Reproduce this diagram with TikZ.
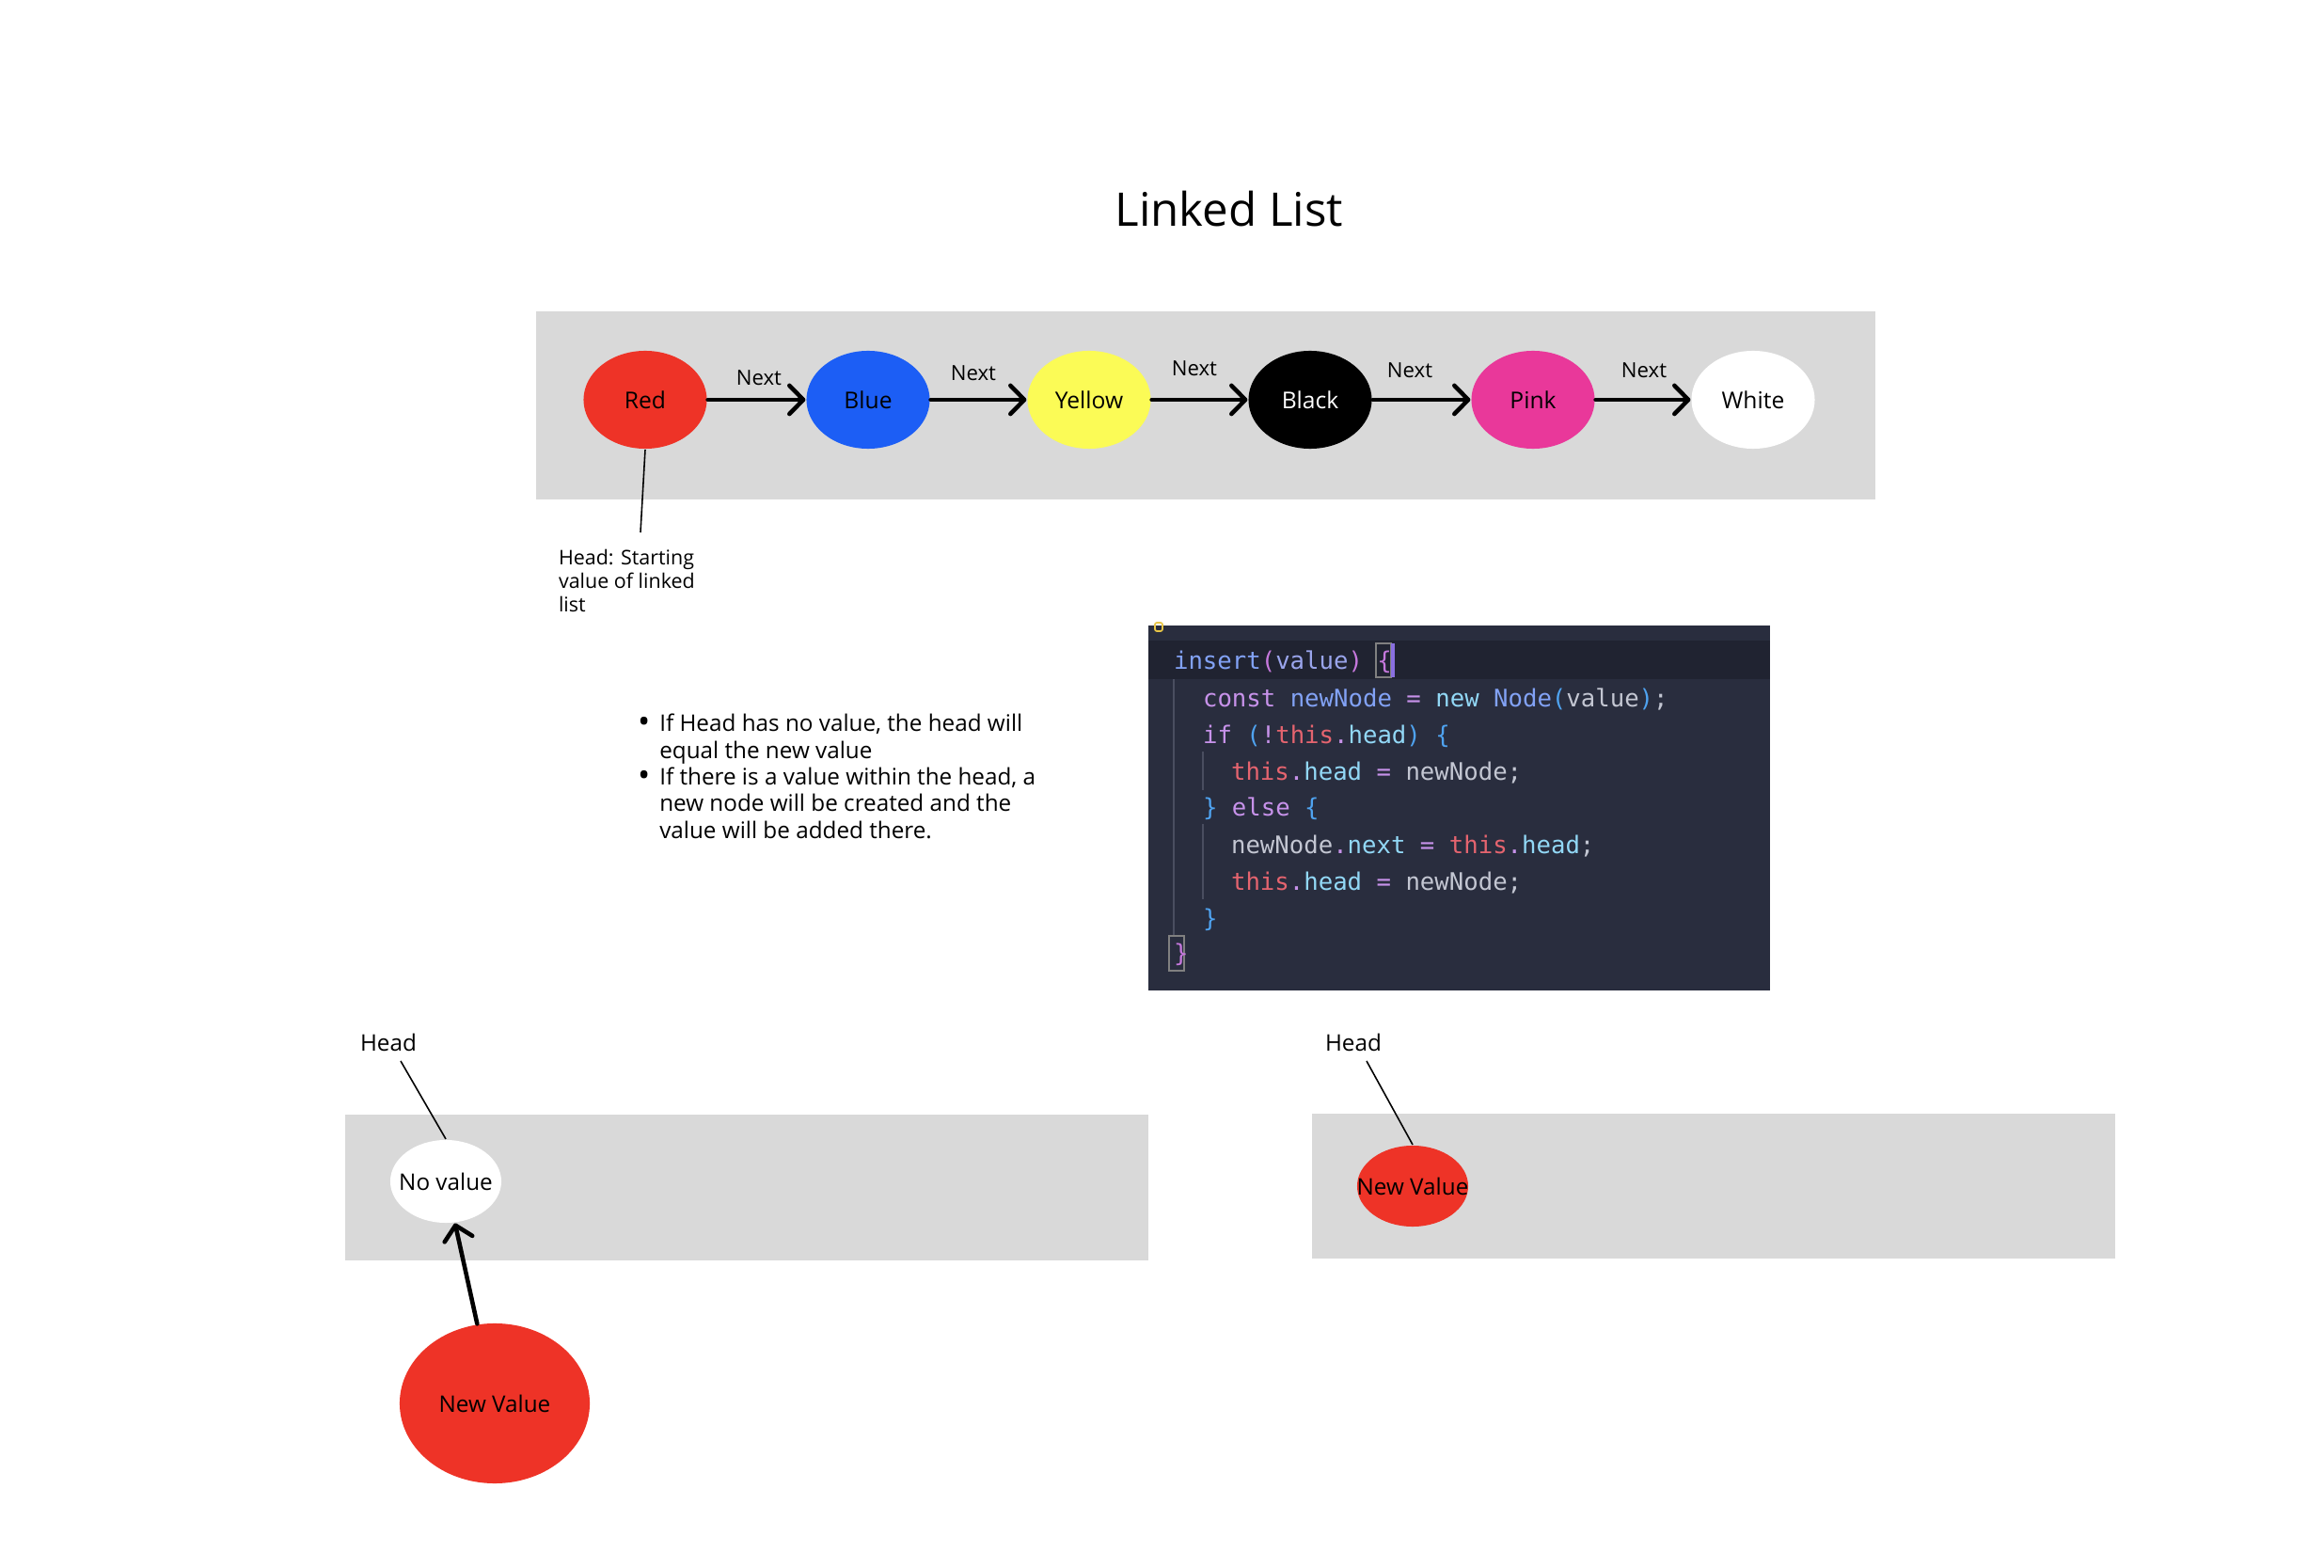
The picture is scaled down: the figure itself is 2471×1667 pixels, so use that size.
\documentclass[tikz,border=0pt]{standalone}
\usepackage{fontspec}
\setmainfont{Open Sans}
\newfontfamily\codefont{DejaVu Sans Mono}
\usepackage{tikz}
\usetikzlibrary{arrows.meta,shapes.geometric}
\definecolor{box_gray}{HTML}{D9D9D9}
\definecolor{node_red}{HTML}{EE3327}
\definecolor{node_blue}{HTML}{1C5EF5}
\definecolor{node_yellow}{HTML}{FBFB56}
\definecolor{node_pink}{HTML}{E9389A}
\definecolor{code_bg}{HTML}{292D3E}
\definecolor{code_line}{HTML}{202331}
\definecolor{code_guide}{HTML}{4A4E60}
\definecolor{code_txt}{HTML}{C3C6D2}
\definecolor{code_kw}{HTML}{C792EA}
\definecolor{code_fn}{HTML}{82A2F5}
\definecolor{code_arg}{HTML}{9AA5EC}
\definecolor{code_this}{HTML}{E5646F}
\definecolor{code_prop}{HTML}{92D8F6}
\definecolor{code_br}{HTML}{4FA3F0}
\definecolor{code_par}{HTML}{C678DD}
\definecolor{code_cursor}{HTML}{8A6FE0}
\definecolor{code_icon}{HTML}{E8C547}
\newcommand\ckw[1]{\textcolor{code_kw}{#1}}
\newcommand\cfn[1]{\textcolor{code_fn}{#1}}
\newcommand\carg[1]{\textcolor{code_arg}{#1}}
\newcommand\cth[1]{\textcolor{code_this}{#1}}
\newcommand\cpr[1]{\textcolor{code_prop}{#1}}
\newcommand\cbr[1]{\textcolor{code_br}{#1}}
\newcommand\cpa[1]{\textcolor{code_par}{#1}}
\newcommand\dotb{\raisebox{-0.5pt}{\scalebox{1.45}{\textbullet}}}

\begin{document}
\begin{tikzpicture}[x=0.01cm,y=-0.01cm,semithick,>={Straight Barb[length=4.2pt,width=8.6pt,round]}]
    \tikzstyle{item}=[ellipse, minimum width=1.31cm, minimum height=1.04cm, inner sep=0pt, text=black, font=\fontsize{7}{8}\selectfont]
    \tikzstyle{lbl}=[inner sep=0pt, font=\fontsize{6.3}{7.5}\selectfont]
    \tikzstyle{note}=[inner sep=0pt, font=\fontsize{6.9}{8.05}\selectfont]
    \tikzstyle{code}=[anchor=base west, inner sep=0pt, text=code_txt, font=\codefont\fontsize{7.3}{8}\selectfont]
    \tikzstyle{link}=[->, line width=1.3pt, line cap=round]
    \tikzstyle{pointer}=[line width=0.45pt]

    \path[use as bounding box, fill=white] (0,0) rectangle (2471,1667);

    \node[font=\fontsize{14}{16}\selectfont, inner sep=0pt] (title) at (1307,222) {Linked List};

    % list
    \fill[box_gray] (570,331) rectangle (1994,531);
    \node[item, fill=node_red]    (red)    at (686,425)  {Red};
    \node[item, fill=node_blue]   (blue)   at (923,425)  {Blue};
    \node[item, fill=node_yellow] (yellow) at (1158,425) {\raisebox{-1.5pt}{Yellow}};
    \node[item, fill=black, text=white] (black) at (1393,425) {Black};
    \node[item, fill=node_pink]   (pink)   at (1630,425) {\raisebox{-1.5pt}{Pink}};
    \node[item, fill=white]       (white)  at (1864,425) {White};
    \node[lbl] (nx1) at (807,402)  {Next};
    \node[lbl] (nx2) at (1035,397) {Next};
    \node[lbl] (nx3) at (1270,392) {Next};
    \node[lbl] (nx4) at (1499,394) {Next};
    \node[lbl] (nx5) at (1748,394) {Next};
    \path[link]
     (red)    edge (blue)
     (blue)   edge (yellow)
     (yellow) edge (black)
     (black)  edge (pink)
     (pink)   edge (white)
     ;
    \coordinate (hd) at (681,566);
    \draw[pointer] (red.south) -- (hd);
    \node[inner sep=0pt, anchor=north west, align=left, font=\fontsize{6.1}{7.1}\selectfont] (headnote) at (593,583)
      {Head: Starting\\value of linked\\list};

    % bullets
    \node[note, anchor=base west] (rules) at (677,778)
      {\begin{tabular}[t]{@{}l@{\hspace{0.1cm}}l@{}}
        \dotb & If Head has no value, the head will\\
              & equal the new value\\
        \dotb & If there is a value within the head, a\\
              & new node will be created and the\\
              & value will be added there.
       \end{tabular}};

    % insert()
    \fill[code_bg] (1221,665) rectangle (1882,1053);
    \fill[code_line] (1221,681) rectangle (1882,722);
    \draw[code_icon, line width=0.5pt, rounded corners=0.6pt] (1228,662) rectangle (1236,671);
    \draw[code_guide, line width=0.7pt] (1248,722) -- (1248,995);
    \draw[code_guide, line width=0.7pt] (1279,799) -- (1279,840);
    \draw[code_guide, line width=0.7pt] (1279,876) -- (1279,956);
    \draw[gray, line width=0.5pt] (1463,684) rectangle (1479,720);
    \draw[code_cursor, line width=0.9pt] (1481,684) -- (1481,720);
    \draw[gray, line width=0.5pt] (1243,995) rectangle (1259,1032);
    \node[code] (c1) at (1247,712)  {\cfn{insert}\cpa{(}\carg{value}\cpa{)} \cpa{\{}};
    \node[code] (c2) at (1278,752)  {\ckw{const} \cfn{newNode} \ckw{=} \cpr{new} \cfn{Node}\cbr{(}value\cbr{)};};
    \node[code] (c3) at (1278,791)  {\ckw{if} \cbr{(}\ckw{!}\cth{this}\ckw{.}\cpr{head}\cbr{)} \cbr{\{}};
    \node[code] (c4) at (1308,830)  {\cth{this}\ckw{.}\cpr{head} \ckw{=} newNode;};
    \node[code] (c5) at (1278,868)  {\cbr{\}} \ckw{else} \cbr{\{}};
    \node[code] (c6) at (1308,908)  {newNode\ckw{.}\cpr{next} \ckw{=} \cth{this}\ckw{.}\cpr{head};};
    \node[code] (c7) at (1308,946)  {\cth{this}\ckw{.}\cpr{head} \ckw{=} newNode;};
    \node[code] (c8) at (1278,985)  {\cbr{\}}};
    \node[code] (c9) at (1247,1023) {\cpa{\}}};

    % empty head
    \fill[box_gray] (367,1185) rectangle (1221,1340);
    \node[note] (head1) at (413,1108) {Head};
    \coordinate (h1) at (426,1128);
    \node[item, fill=white, minimum width=1.18cm, minimum height=0.88cm, font=\fontsize{6.9}{8}\selectfont] (noval) at (474,1256) {\makebox[0pt]{No value}};
    \node[item, fill=node_red, minimum width=2.02cm, minimum height=1.70cm, font=\fontsize{6.9}{8}\selectfont] (newv) at (526,1492) {New Value};
    \draw[pointer] (h1) -- (noval.north);
    \path[link] (newv) edge (noval);

    % head set
    \fill[box_gray] (1395,1184) rectangle (2249,1338);
    \node[note] (head2) at (1439,1108) {Head};
    \coordinate (h2) at (1453,1128);
    \node[item, fill=node_red, minimum width=1.18cm, minimum height=0.86cm, font=\fontsize{6.9}{8}\selectfont] (newh) at (1502,1261) {\makebox[0pt]{New Value}};
    \draw[pointer] (h2) -- (newh.north);
  \end{tikzpicture}
\end{document}
